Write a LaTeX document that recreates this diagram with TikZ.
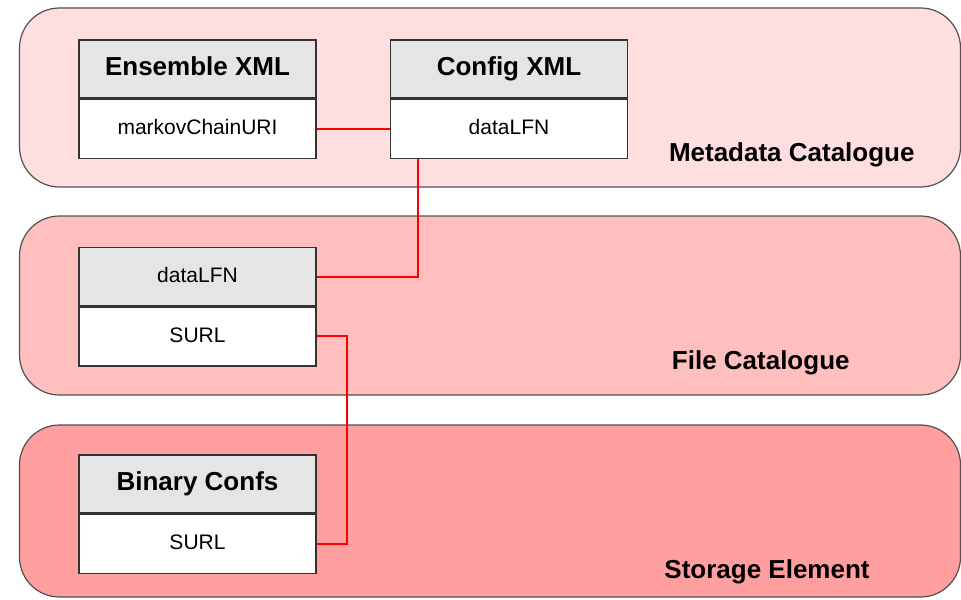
\documentclass[tikz,border=0pt]{standalone}
\usepackage{fontspec}
\setmainfont{Liberation Sans}
\usetikzlibrary{positioning}

\definecolor{metaPink}{RGB}{255,222,224}
\definecolor{filePink}{RGB}{255,191,191}
\definecolor{storePink}{RGB}{255,159,159}
\definecolor{headGray}{RGB}{229,229,229}
\definecolor{edgeGray}{RGB}{80,80,80}

\begin{document}
\begin{tikzpicture}[x=0.5pt,y=-0.5pt,
  band/.style={draw=edgeGray, line width=0.6pt, rounded corners=20pt,
    minimum width=470.5pt, inner sep=0pt},
  head/.style={draw=black!80, line width=0.7pt, fill=headGray, inner sep=0pt,
    minimum width=118.5pt, minimum height=29pt},
  field/.style={draw=black!80, line width=0.7pt, fill=white, inner sep=0pt,
    minimum width=118.5pt, minimum height=29.5pt, text height=7.6pt, text depth=2pt,
    font=\fontsize{10.5}{12}\selectfont},
  title/.style={font=\fontsize{13}{15}\bfseries, text height=9.4pt, text depth=2.6pt},
  catname/.style={anchor=east, inner sep=0pt, font=\fontsize{13}{15}\bfseries},
  link/.style={draw=red, line width=1pt}]
  \useasboundingbox (0,0) rectangle (961,599);

  % layers
  \node[band, fill=metaPink,  minimum height=89.5pt] (MetaBand)  at (490,97.5)  {};
  \node[band, fill=filePink,  minimum height=89.5pt] (FileBand)  at (490,305.5) {};
  \node[band, fill=storePink, minimum height=86pt]   (StoreBand) at (490,511)   {};

  \node[catname] (MetaLabel)  at (915,155) {Metadata Catalogue};
  \node[catname] (FileLabel)  at (850,363) {File Catalogue};
  \node[catname] (StoreLabel) at (870,572) {Storage Element};

  % tables
  \node[head, title] (EnsembleH) at (197.5,69) {Ensemble XML};
  \node[field]       (EnsembleF) [below=0pt of EnsembleH] {markovChainURI};

  \node[head, title] (ConfigH) at (509,69) {Config XML};
  \node[field]       (ConfigF) [below=0pt of ConfigH] {dataLFN};

  \node[head, font=\fontsize{10.5}{12}\selectfont, text height=7.6pt, text depth=2pt]
    (FileH) at (197.5,276.5) {dataLFN};
  \node[field]       (FileF) [below=0pt of FileH] {SURL};

  \node[head, title] (BinaryH) at (197.5,484) {Binary Confs};
  \node[field]       (BinaryF) [below=0pt of BinaryH] {SURL};

  % references
  \draw[link] (EnsembleF.east) -- (ConfigF.west);
  \draw[link] ([xshift=14pt]ConfigF.south west) |- (FileH.east);
  \draw[link] (FileF.east) -- ++(30,0) |- (BinaryF.east);
\end{tikzpicture}
\end{document}
